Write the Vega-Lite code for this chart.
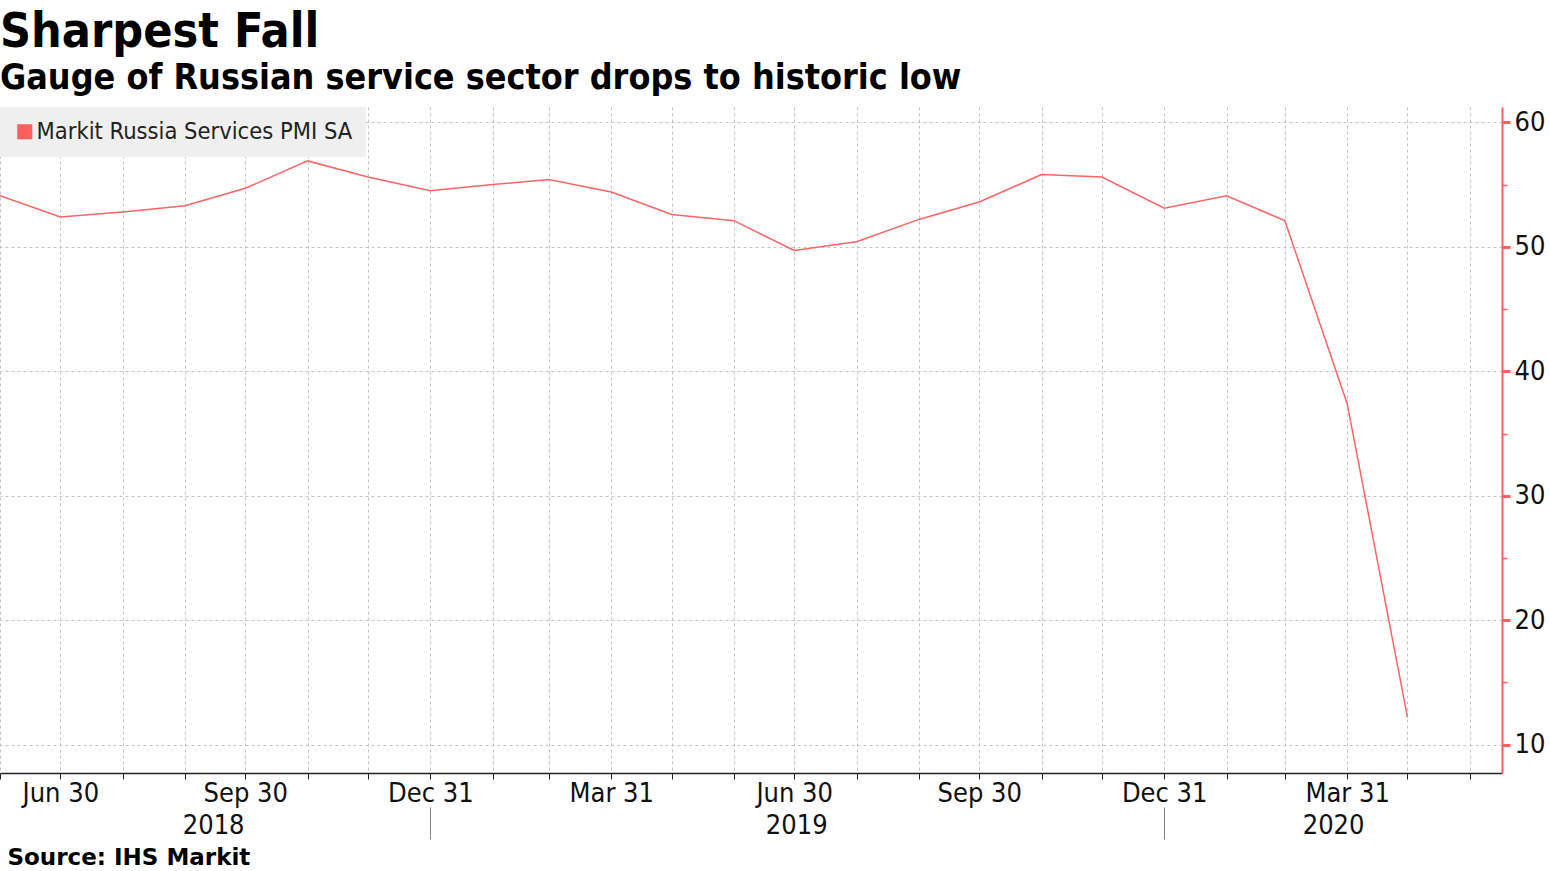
{
  "$schema": "https://vega.github.io/schema/vega-lite/v6.json",
  "width": 1502,
  "height": 666,
  "autosize": {"type": "none"},
  "padding": {"left": 0, "top": 107, "right": 48, "bottom": 98},
  "background": "white",
  "title": {
    "text": "Sharpest Fall",
    "subtitle": "Gauge of Russian service sector drops to historic low",
    "anchor": "start",
    "frame": "group",
    "font": "DejaVu Sans Condensed",
    "fontSize": 48,
    "fontWeight": "bold",
    "color": "black",
    "subtitleFont": "DejaVu Sans Condensed",
    "subtitleFontSize": 35.6,
    "subtitleFontWeight": "bold",
    "subtitleColor": "black",
    "subtitlePadding": 4,
    "offset": 10
  },
  "config": {
    "view": {"stroke": null},
    "axis": {"labelFont": "DejaVu Sans Condensed", "titleFont": "DejaVu Sans Condensed"}
  },
  "data": {
    "values": [
      {"date": "2018-05-31", "value": 54.1, "series": "Markit Russia Services PMI SA"},
      {"date": "2018-06-30", "value": 52.4, "series": "Markit Russia Services PMI SA"},
      {"date": "2018-07-31", "value": 52.8, "series": "Markit Russia Services PMI SA"},
      {"date": "2018-08-31", "value": 53.3, "series": "Markit Russia Services PMI SA"},
      {"date": "2018-09-30", "value": 54.7, "series": "Markit Russia Services PMI SA"},
      {"date": "2018-10-31", "value": 56.9, "series": "Markit Russia Services PMI SA"},
      {"date": "2018-11-30", "value": 55.6, "series": "Markit Russia Services PMI SA"},
      {"date": "2018-12-31", "value": 54.5, "series": "Markit Russia Services PMI SA"},
      {"date": "2019-01-31", "value": 55.0, "series": "Markit Russia Services PMI SA"},
      {"date": "2019-02-28", "value": 55.4, "series": "Markit Russia Services PMI SA"},
      {"date": "2019-03-31", "value": 54.4, "series": "Markit Russia Services PMI SA"},
      {"date": "2019-04-30", "value": 52.6, "series": "Markit Russia Services PMI SA"},
      {"date": "2019-05-31", "value": 52.1, "series": "Markit Russia Services PMI SA"},
      {"date": "2019-06-30", "value": 49.7, "series": "Markit Russia Services PMI SA"},
      {"date": "2019-07-31", "value": 50.4, "series": "Markit Russia Services PMI SA"},
      {"date": "2019-08-31", "value": 52.2, "series": "Markit Russia Services PMI SA"},
      {"date": "2019-09-30", "value": 53.6, "series": "Markit Russia Services PMI SA"},
      {"date": "2019-10-31", "value": 55.8, "series": "Markit Russia Services PMI SA"},
      {"date": "2019-11-30", "value": 55.6, "series": "Markit Russia Services PMI SA"},
      {"date": "2019-12-31", "value": 53.1, "series": "Markit Russia Services PMI SA"},
      {"date": "2020-01-31", "value": 54.1, "series": "Markit Russia Services PMI SA"},
      {"date": "2020-02-29", "value": 52.1, "series": "Markit Russia Services PMI SA"},
      {"date": "2020-03-31", "value": 37.4, "series": "Markit Russia Services PMI SA"},
      {"date": "2020-04-30", "value": 12.2, "series": "Markit Russia Services PMI SA"}
    ]
  },
  "layer": [
    {
      "mark": {"type": "line", "strokeWidth": 1.5, "clip": true},
      "encoding": {
        "x": {
          "field": "date", "type": "temporal",
          "scale": {"type": "utc", "domain": [{"year": 2018, "month": 5, "date": 31, "utc": true}, {"year": 2020, "month": 6, "date": 16, "utc": true}]},
          "axis": {
            "orient": "bottom",
            "title": null,
            "values": [
              {"year": 2018, "month": 5, "date": 31, "utc": true},
              {"year": 2018, "month": 6, "date": 30, "utc": true},
              {"year": 2018, "month": 7, "date": 31, "utc": true},
              {"year": 2018, "month": 8, "date": 31, "utc": true},
              {"year": 2018, "month": 9, "date": 30, "utc": true},
              {"year": 2018, "month": 10, "date": 31, "utc": true},
              {"year": 2018, "month": 11, "date": 30, "utc": true},
              {"year": 2018, "month": 12, "date": 31, "utc": true},
              {"year": 2019, "month": 1, "date": 31, "utc": true},
              {"year": 2019, "month": 2, "date": 28, "utc": true},
              {"year": 2019, "month": 3, "date": 31, "utc": true},
              {"year": 2019, "month": 4, "date": 30, "utc": true},
              {"year": 2019, "month": 5, "date": 31, "utc": true},
              {"year": 2019, "month": 6, "date": 30, "utc": true},
              {"year": 2019, "month": 7, "date": 31, "utc": true},
              {"year": 2019, "month": 8, "date": 31, "utc": true},
              {"year": 2019, "month": 9, "date": 30, "utc": true},
              {"year": 2019, "month": 10, "date": 31, "utc": true},
              {"year": 2019, "month": 11, "date": 30, "utc": true},
              {"year": 2019, "month": 12, "date": 31, "utc": true},
              {"year": 2020, "month": 1, "date": 31, "utc": true},
              {"year": 2020, "month": 2, "date": 29, "utc": true},
              {"year": 2020, "month": 3, "date": 31, "utc": true},
              {"year": 2020, "month": 4, "date": 30, "utc": true},
              {"year": 2020, "month": 5, "date": 31, "utc": true}
            ],
            "labelExpr": "indexof([2,5,8,11], utcmonth(datum.value)) >= 0 ? utcFormat(datum.value, '%b %d') : ''",
            "labelFontSize": 27,
            "labelColor": "#111111",
            "labelPadding": 1,
            "labelOverlap": false,
            "labelFlush": false,
            "tickSize": 6,
            "tickColor": "#222222",
            "domainColor": "#222222",
            "domainWidth": 1.5,
            "grid": true,
            "gridColor": "#c4c4c4",
            "gridDash": [3, 3],
            "gridWidth": 1
          }
        },
        "y": {
          "field": "value", "type": "quantitative",
          "scale": {"domain": [7.73, 61.23], "nice": false, "zero": false},
          "axis": {
            "orient": "right",
            "title": null,
            "values": [10, 20, 30, 40, 50, 60],
            "labelFontSize": 27,
            "labelColor": "#111111",
            "labelPadding": 4,
            "tickSize": 8,
            "tickWidth": 3,
            "tickColor": "#ff5f5f",
            "domainColor": "#ff5f5f",
            "domainWidth": 2,
            "grid": true,
            "gridColor": "#c4c4c4",
            "gridDash": [3, 3],
            "gridWidth": 1
          }
        },
        "color": {
          "field": "series", "type": "nominal",
          "scale": {"range": ["#ff6464"]},
          "legend": {
            "title": null,
            "orient": "top-left",
            "offset": 0,
            "padding": 13,
            "fillColor": "#efefef",
            "symbolType": "square",
            "symbolSize": 225,
            "symbolFillColor": "#ff5f5f",
            "symbolStrokeWidth": 0,
            "labelFont": "DejaVu Sans Condensed",
            "labelFontSize": 23.5,
            "labelColor": "#222222",
            "labelOffset": 0,
            "labelLimit": 600
          }
        }
      }
    },
    {
      "mark": {"type": "line", "opacity": 0},
      "encoding": {
        "x": {
          "field": "date", "type": "temporal",
          "axis": {
            "orient": "bottom",
            "values": [
              {"year": 2018, "month": 9, "date": 14, "utc": true},
              {"year": 2019, "month": 7, "date": 1, "utc": true},
              {"year": 2020, "month": 3, "date": 24, "utc": true}
            ],
            "labelExpr": "utcFormat(datum.value, '%Y')",
            "labelFontSize": 27,
            "labelColor": "#111111",
            "labelPadding": 39,
            "labelOverlap": false,
            "labelFlush": false,
            "ticks": false,
            "domain": false,
            "grid": false,
            "title": "Source: IHS Markit",
            "titleFont": "DejaVu Sans",
            "titleFontWeight": "bold",
            "titleFontSize": 23,
            "titleColor": "#000000",
            "titleAnchor": "start",
            "titleAlign": "left",
            "titleBaseline": "alphabetic",
            "titleX": 7,
            "titleY": 91
          }
        },
        "y": {"field": "value", "type": "quantitative", "axis": null}
      }
    },
    {
      "mark": {"type": "line", "opacity": 0},
      "encoding": {
        "x": {
          "field": "date", "type": "temporal",
          "axis": {
            "orient": "bottom",
            "title": null,
            "offset": 34,
            "values": [
              {"year": 2018, "month": 12, "date": 31, "utc": true},
              {"year": 2019, "month": 12, "date": 31, "utc": true}
            ],
            "labels": false,
            "domain": false,
            "grid": false,
            "tickSize": 32,
            "tickColor": "#888888",
            "tickWidth": 1
          }
        },
        "y": {
          "field": "value", "type": "quantitative",
          "axis": {
            "orient": "right",
            "title": null,
            "values": [15, 25, 35, 45, 55],
            "labels": false,
            "domain": false,
            "grid": false,
            "tickSize": 5,
            "tickColor": "#ff5f5f",
            "tickWidth": 1.5
          }
        }
      }
    }
  ],
  "resolve": {"axis": {"x": "independent", "y": "independent"}}
}
